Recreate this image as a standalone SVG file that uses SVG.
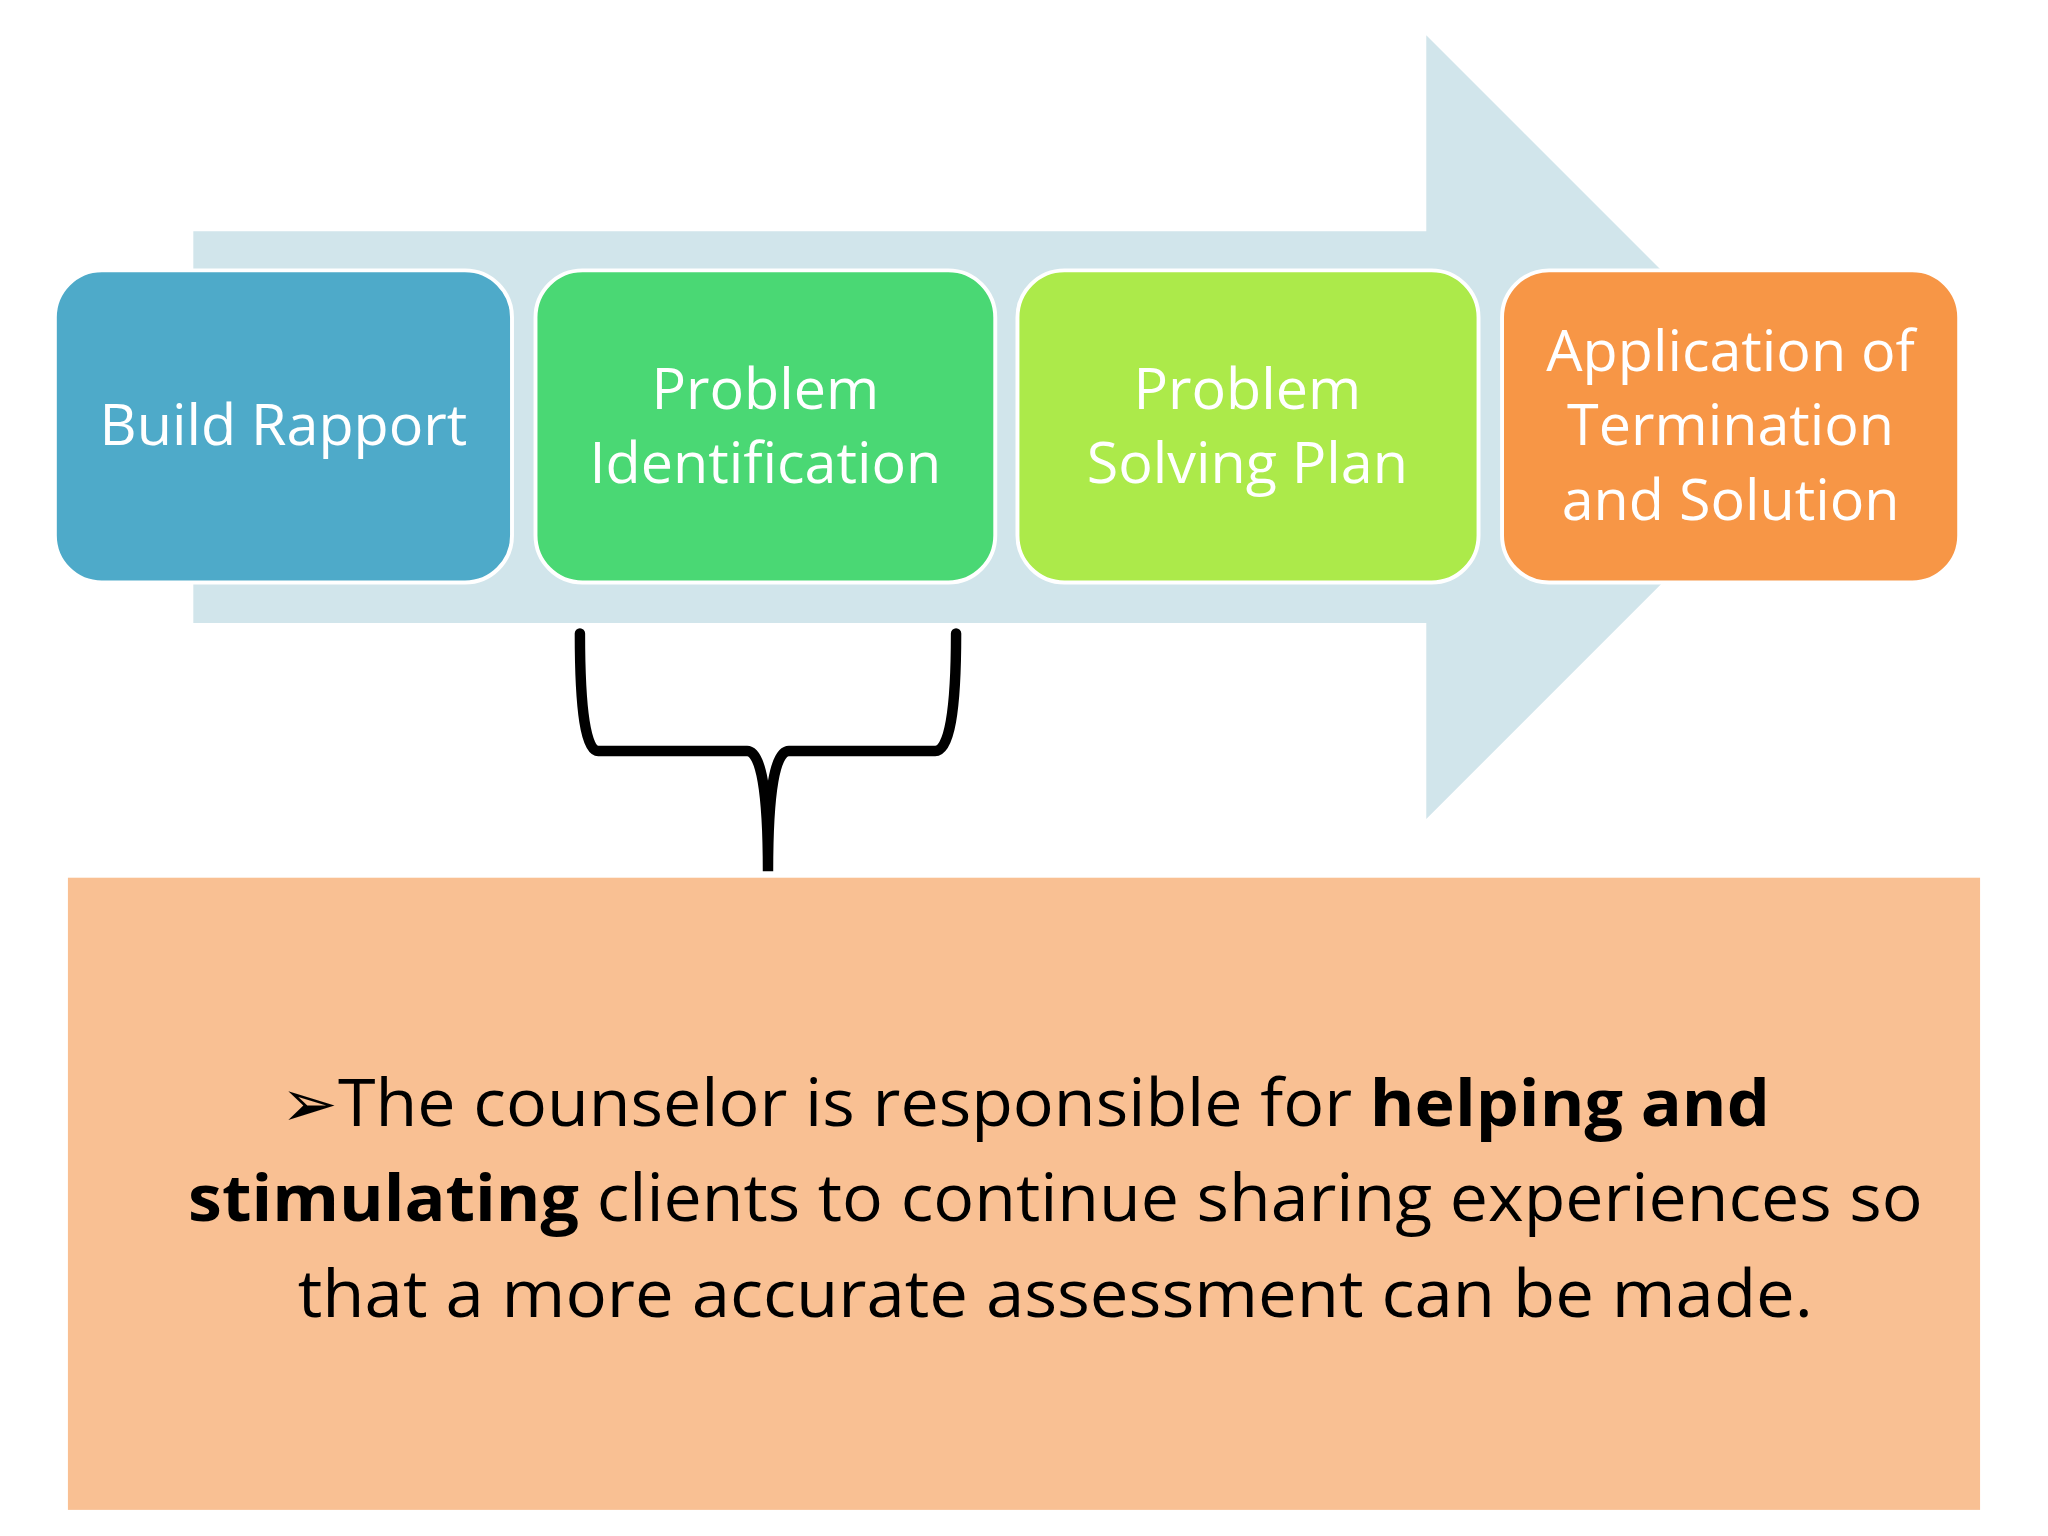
<svg xmlns="http://www.w3.org/2000/svg" width="2048" height="1536" viewBox="0 0 2048 1536">
<style>
.b{stroke:#fff;stroke-width:3}
.l{font-family:"Open Sans","Noto Sans",sans-serif;font-size:44px;fill:#fff;text-anchor:middle}
.t{font-family:"Open Sans","Noto Sans",sans-serif;font-size:50px;fill:#000}
</style>
<rect width="2048" height="1536" fill="#fff"/>
<g transform="scale(1.30612)">
<polygon id="arrow" points="148,177 1092,177 1092,27 1392,327 1092,627 1092,477 148,477" fill="#d1e5eb"/>
<g id="n1"><rect class="b" x="42" y="207" width="350" height="239" rx="36" fill="#4eaac9"/><text class="l" x="217" y="341">Build Rapport</text></g>
<g id="n2"><rect class="b" x="410" y="207" width="352" height="239" rx="36" fill="#4ad874"/><text class="l" x="586" y="313">Problem</text><text class="l" x="586" y="370">Identification</text></g>
<g id="n3"><rect class="b" x="779" y="207" width="353" height="239" rx="36" fill="#acea4a"/><text class="l" x="955" y="313">Problem</text><text class="l" x="955" y="370">Solving Plan</text></g>
<g id="n4"><rect class="b" x="1150" y="207" width="350" height="239" rx="36" fill="#f79646"/><text class="l" x="1325" y="284">Application of</text><text class="l" x="1325" y="341">Termination</text><text class="l" x="1325" y="398">and Solution</text></g>
<g id="connectors"><path d="M444,485 Q444,575 458,575 L572,575 Q588,575 588,667 Q588,575 604,575 L716,575 Q732,575 732,485" fill="none" stroke="#000" stroke-width="8" stroke-linecap="round"/></g>
<g id="note"><rect x="52" y="672" width="1464" height="484" fill="#f9c093"/>
<text class="t" x="215" y="862" textLength="1140" lengthAdjust="spacingAndGlyphs"><tspan font-family="DejaVu Sans">➢</tspan>The counselor is responsible for <tspan font-weight="bold">helping and</tspan></text>
<text class="t" x="144" y="935" textLength="1328" lengthAdjust="spacingAndGlyphs"><tspan font-weight="bold">stimulating</tspan> clients to continue sharing experiences so</text>
<text class="t" x="228" y="1008" textLength="1160" lengthAdjust="spacingAndGlyphs">that a more accurate assessment can be made.</text></g>
</g>
</svg>
